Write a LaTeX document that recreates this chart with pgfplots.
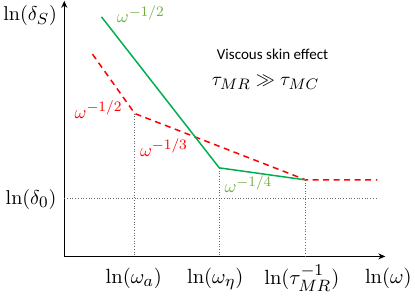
\documentclass[border=0pt]{standalone}
\usepackage{graphicx}
\usepackage{pgfplots}
\pgfplotsset{compat=1.18}
\usetikzlibrary{arrows.meta}
\usepackage{fontspec}
\newfontfamily\calibri{Carlito}
\DeclareMathSizes{10}{10}{8}{6}
\newcommand\sm[2]{\scalebox{#1}{$#2$}}
\definecolor{lgreen}{HTML}{00B050}
\definecolor{tgreen}{HTML}{70AD47}
\definecolor{myred}{HTML}{FF0000}
\begin{document}
\begin{tikzpicture}
\begin{axis}[
  scale only axis, width=415bp, height=296bp,
  xmin=0, xmax=415, ymin=0, ymax=296, y dir=reverse,
  hide axis, clip=false,
  every node/.append style={inner sep=0pt},
]
% axes
\addplot[black, line width=1.6pt, -{Stealth[length=7pt,width=6pt]}] coordinates {(63,258) (382,258)};
\addplot[black, line width=1.6pt, -{Stealth[length=7pt,width=6pt]}] coordinates {(63,258) (63,4)};
% dotted guides
\addplot[gray!80!black, dotted, line width=0.7pt] coordinates {(63,200) (374,200)};
\addplot[gray!80!black, dotted, line width=0.7pt] coordinates {(133,116) (133,258)};
\addplot[gray!80!black, dotted, line width=0.7pt] coordinates {(217,170) (217,258)};
\addplot[gray!80!black, dotted, line width=0.7pt] coordinates {(303,182) (303,258)};
% curves
\addplot[myred, line width=1.5pt, dash pattern=on 6pt off 4.5pt] coordinates {(91,57) (133,116) (303,182) (374,182)};
\addplot[lgreen, line width=1.5pt] coordinates {(100,20) (217,170) (303,182)};
% labels
\node at (axis cs:29,19) {\sm{2.0}{\ln(\delta_S)}};
\node at (axis cs:30,201) {\sm{2.0}{\ln(\delta_0)}};
\node at (axis cs:132,280) {\sm{2.05}{\ln(\omega_a)}};
\node at (axis cs:213,280) {\sm{2.05}{\ln(\omega_\eta)}};
\node at (axis cs:299,280) {\sm{2.05}{\ln(\tau_{MR}^{-1})}};
\node at (axis cs:385,280) {\sm{2.05}{\ln(\omega)}};
\node[text=tgreen] at (axis cs:139,17) {\sm{1.8}{\omega^{-1/2}}};
\node[text=myred] at (axis cs:97,112) {\sm{1.8}{\omega^{-1/2}}};
\node[text=myred] at (axis cs:162,150) {\sm{1.8}{\omega^{-1/3}}};
\node[text=tgreen] at (axis cs:246,186) {\sm{1.8}{\omega^{-1/4}}};
\node[font=\calibri\fontsize{15}{18}\selectfont] at (axis cs:270,57) {Viscous skin effect};
\node at (axis cs:263,85) {\sm{1.9}{\tau_{MR}\gg\tau_{MC}}};
\end{axis}
\end{tikzpicture}
\end{document}
